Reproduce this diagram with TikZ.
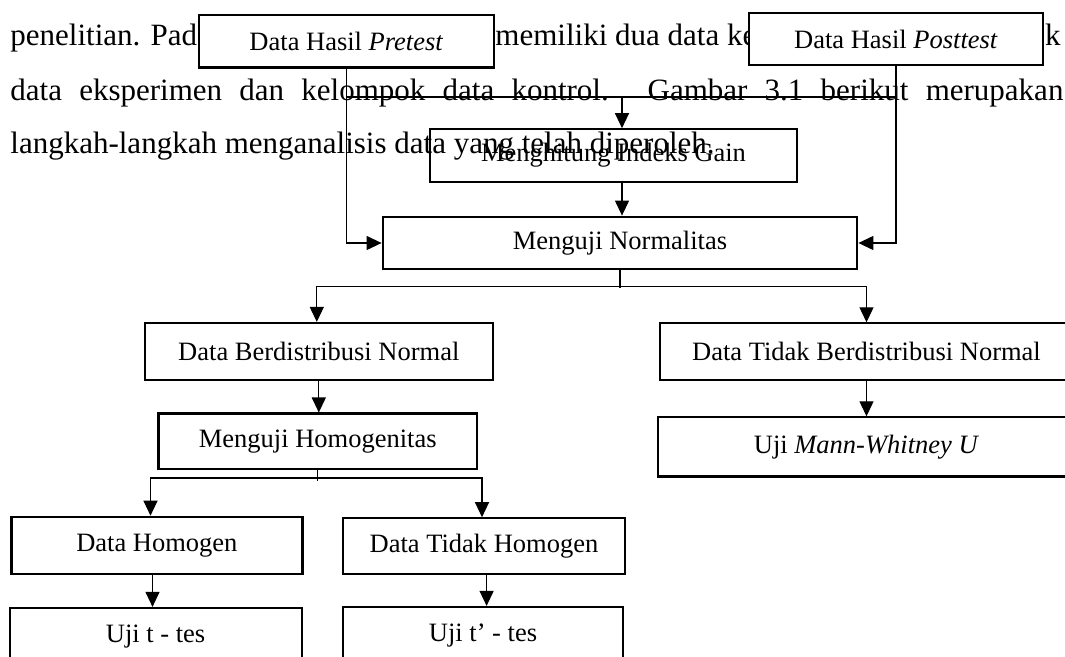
\documentclass[tikz,border=0pt]{standalone}
\usepackage{fontspec}
\setmainfont{Liberation Serif}
\usetikzlibrary{arrows.meta}
\begin{document}
\begin{tikzpicture}[x=0.5pt,y=-0.5pt,
  box/.style={draw, line width=1.1pt, inner sep=0pt, font=\fontsize{13.25}{16}\selectfont, anchor=center},
  wbox/.style={box, fill=white},
  conn/.style={line width=0.6pt},
  arr/.style={conn, -{Triangle[length=7.5pt,width=7pt]}},
  body/.style={font=\fontsize{15.5}{18}\selectfont, inner sep=0pt, anchor=base west}]
\useasboundingbox (0,0) rectangle (1065,657);
\clip (0,0) rectangle (1065,657);

% body text of the page
\node[body] (t1a) at (10,45.5) {penelitian. Pad};
\node[body] (t1b) at (495,45.5) {memiliki dua data ke};
\node[body, anchor=base east] (t1c) at (1061,45.5) {ok};
\node[body] (t2) at (10,100.5) {\makebox[526.5pt][s]{data eksperimen dan kelompok data kontrol. Gambar 3.1 berikut merupakan}};
\node[body] (t3) at (10,154) {langkah-langkah menganalisis data yang telah diperoleh.};

% boxes
\node[wbox, minimum width=147.6pt, minimum height=26.4pt] (pre) at (346.4,41.2) {Data Hasil \textit{Pretest}};
\node[wbox, minimum width=147pt, minimum height=26pt] (post) at (896,39) {Data Hasil \textit{Posttest}};
\node[box, minimum width=183.5pt, minimum height=26.2pt] (gain) at (613.5,155.5) {Menghitung Indeks Gain};
\node[wbox, minimum width=237.3pt, minimum height=26.3pt] (norm) at (620,243) {Menguji Normalitas};
\node[wbox, minimum width=174.2pt, minimum height=28.5pt] (dbn) at (318.8,351.5) {Data Berdistribusi Normal};
\node[wbox, minimum width=206.5pt, minimum height=28.3pt] (dtbn) at (866.5,351.7) {Data Tidak Berdistribusi Normal};
\node[wbox, minimum width=208.5pt, minimum height=29.5pt] (mw) at (866.5,446.9) {Uji \textit{Mann-Whitney U}};
\node[wbox, minimum width=159.3pt, minimum height=27.7pt] (hom) at (317.7,441.3) {Menguji Homogenitas};
\node[wbox, minimum width=145.5pt, minimum height=28.4pt] (dh) at (156.9,545.2) {Data Homogen};
\node[wbox, minimum width=140.9pt, minimum height=27.9pt] (dth) at (484,546.2) {Data Tidak Homogen};
\node[wbox, minimum width=146pt, minimum height=28.5pt] (ut) at (155.6,636.5) {Uji t - tes};
\node[wbox, minimum width=140pt, minimum height=28.5pt] (utp) at (483,635.5) {Uji t’ - tes};

% connectors
\coordinate (j1) at (622,97);
\draw[conn] (pre.south |- j1) -- (post.south |- j1);
\draw[arr] (pre.south) |- (norm.west);
\draw[arr] (post.south) |- (norm.east);
\draw[arr] (j1) -- (j1 |- gain.north);
\draw[arr] (j1 |- gain.south) -- (j1 |- norm.north);

\coordinate (j2) at (620,286.5);
\draw[conn] (norm.south) -- ([yshift=-0.8pt]j2);
\draw[arr] (j2) -| ([xshift=-1pt]dbn.north);
\draw[arr] (j2) -| (dtbn.north);
\draw[arr] (dbn.south) -- (dbn.south |- hom.north);
\draw[arr] (dtbn.south) -- (mw.north);

\coordinate (j3) at (317.7,478);
\draw[conn] (hom.south) -- ([yshift=-1.5pt]j3);
\draw[arr] (j3) -| ([xshift=-3.2pt]dh.north);
\draw[arr] (j3) -| ([xshift=-1pt]dth.north);
\draw[arr] ([xshift=-2.2pt]dh.south) -- ([xshift=-2.2pt]dh.south |- ut.north);
\draw[arr] ([xshift=1.3pt]dth.south) -- ([xshift=1.3pt]dth.south |- utp.north);
\end{tikzpicture}
\end{document}
